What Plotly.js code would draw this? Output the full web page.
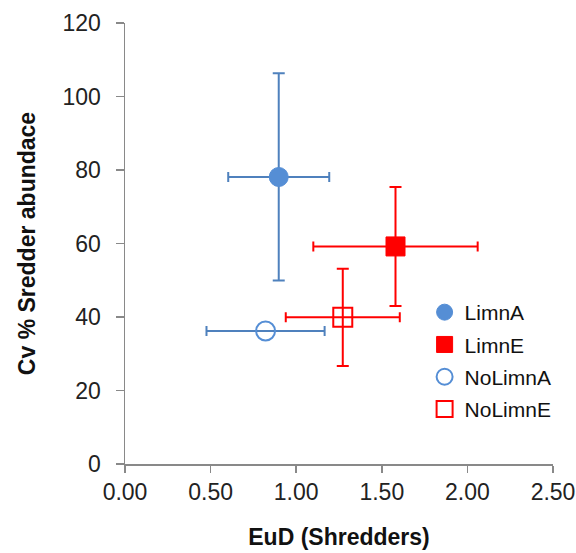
<!DOCTYPE html>
<html>
<head>
<meta charset="utf-8">
<script src="https://cdn.plot.ly/plotly-3.0.1.min.js"></script>
<style>html,body{margin:0;padding:0;background:#fff}#chart{width:576px;height:553px}</style>
</head>
<body>
<div id="chart"></div>
<script>
// Series names
const seriesNames = ["LimnA", "LimnE", "NoLimnA", "NoLimnE"];
// EuD (Shredders) means
const xValues = [0.898, 1.58, 0.821, 1.272];
// Cv % Sredder abundace means
const yValues = [78.1, 59.2, 36.2, 39.9];
// horizontal error (±)
const xErrors = [0.295, 0.48, 0.345, 0.333];
// vertical error (±), null = none
const yErrors = [28.2, 16.2, null, 13.2];
// tick labels
const xTickVals = [0, 0.5, 1, 1.5, 2, 2.5];
const xTickText = ["0.00", "0.50", "1.00", "1.50", "2.00", "2.50"];
const yTickVals = [0, 20, 40, 60, 80, 100, 120];

const blue = "#558ED5", blueErr = "#4F81BD", red = "#FF0000";
const styles = [
  {symbol: "circle", color: blue, line: {color: blue, width: 1}, err: blueErr},
  {symbol: "square", color: red, line: {color: red, width: 1}, err: red},
  {symbol: "circle-open", color: blue, line: {color: blue, width: 2}, err: blueErr},
  {symbol: "square-open", color: red, line: {color: red, width: 2}, err: red}
];

const traces = seriesNames.map((name, i) => {
  const s = styles[i];
  const t = {
    type: "scatter", mode: "markers", name: name,
    x: [xValues[i]], y: [yValues[i]],
    marker: {symbol: s.symbol, size: 19, color: s.color, line: s.line},
    error_x: {type: "data", array: [xErrors[i]], visible: true, color: s.err, thickness: 2, width: 5},
    legendgroup: "g" + i
  };
  if (yErrors[i] !== null) {
    t.error_y = {type: "data", array: [yErrors[i]], visible: true, color: s.err, thickness: 2, width: 6};
  }
  return t;
});

const fam = "Liberation Sans, Arial, sans-serif";
const tickFont = {family: fam, size: 23, color: "#222"};
const titleFont = {family: fam, size: 23, color: "#111", weight: "bold"};

const layout = {
  width: 576, height: 553,
  margin: {l: 125, r: 23, t: 23, b: 89},
  paper_bgcolor: "#fff", plot_bgcolor: "#fff",
  showlegend: true,
  legend: {
    x: 0.70, y: 0.39, xanchor: "left", yanchor: "top",
    font: {family: fam, size: 21, color: "#111"},
    traceorder: "grouped", tracegroupgap: 2, bgcolor: "rgba(0,0,0,0)"
  },
  xaxis: {
    range: [0, 2.5], tickvals: xTickVals, ticktext: xTickText,
    showgrid: false, zeroline: false, showline: true, linecolor: "#898989", linewidth: 1.5,
    ticks: "outside", ticklen: 7, tickcolor: "#898989", tickwidth: 1.5,
    tickfont: tickFont, ticklabeloverflow: "allow",
    title: {text: "EuD (Shredders)", font: titleFont, standoff: 25}
  },
  yaxis: {
    range: [0, 120], tickvals: yTickVals,
    showgrid: false, zeroline: false, showline: true, linecolor: "#898989", linewidth: 1.5,
    ticks: "outside", ticklen: 8, tickcolor: "#898989", tickwidth: 1.5,
    tickfont: tickFont, ticklabelstandoff: 10, ticklabeloverflow: "allow",
    title: {text: "Cv % Sredder abundace", font: titleFont, standoff: 20}
  }
};

Plotly.newPlot("chart", traces, layout, {displayModeBar: false, staticPlot: true});
</script>
</body>
</html>
